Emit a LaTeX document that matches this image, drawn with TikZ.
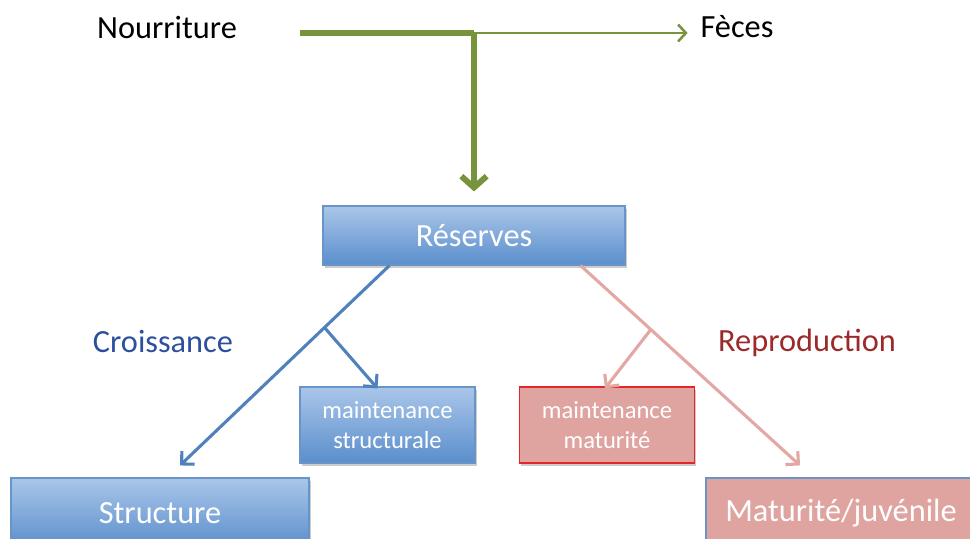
\documentclass[tikz,border=0pt]{standalone}
\usepackage{fontspec}
\setmainfont{Carlito}
\usetikzlibrary{
    positioning,
    arrows.meta,
    shadows,
    calc
    }

\definecolor{feedgreen}{HTML}{77933C}
\definecolor{growblue}{HTML}{4F81BD}
\definecolor{boxtop}{HTML}{AAC6E9}
\definecolor{boxbottom}{HTML}{5A8ECC}
\definecolor{repropink}{HTML}{E3A7A4}
\definecolor{pinkfill}{HTML}{DFA3A0}
\definecolor{redline}{HTML}{E3262A}
\definecolor{growtext}{HTML}{2C4F9E}
\definecolor{reprotext}{HTML}{9C2A2A}

\begin{document}
\begin{tikzpicture}[x=0.025cm, y=-0.025cm]
\tikzset{big/.style =
        {
            font=\fontsize{23}{27}\selectfont
        }
}

\tikzset{small/.style =
        {
            font=\fontsize{17.5}{21.5}\selectfont,
            align=center
        }
}

\tikzset{box/.style =
        {
            rectangle,
            inner sep=0pt,
            text=white,
            draw,
            line width=0.8pt,
            drop shadow={shadow xshift=1.2pt, shadow yshift=-1.8pt, opacity=0.4}
        }
}

\tikzset{bluebox/.style =
        {
            box,
            draw=growblue!85,
            top color=boxtop,
            bottom color=boxbottom
        }
}

\tikzset{pinkbox/.style =
        {
            box,
            fill=pinkfill
        }
}

\tikzset{feed/.style =
        {
            feedgreen,
            line width=4.2pt
        }
}

\tikzset{flow/.style =
        {
            line width=2.2pt,
            -{Straight Barb[length=6.5pt, width=13pt, line width=2.2pt]}
        }
}

		\useasboundingbox (0,0) rectangle (970,538);
		\clip (0,0) rectangle (970,538);

		\node[big] (nour) at (167,27) {Nourriture};
		\node[big] (feces) at (737,27) {Fèces};

		\node[bluebox, big, minimum width=7.55cm, minimum height=1.475cm] (res) at (474,235.5) {\raisebox{-2pt}{Réserves}};

		\node[bluebox, small, minimum width=4.375cm, minimum height=1.9cm] (ms) at (387.5,425) {maintenance\\structurale};
		\node[pinkbox, small, draw=redline, minimum width=4.375cm, minimum height=1.9cm] (mm) at (607,425) {maintenance\\maturité};

		\node[bluebox, big, minimum width=7.45cm, minimum height=1.75cm] (struct) at (160,513) {Structure};
		\node[pinkbox, big, draw=growblue!85, minimum width=6.75cm, minimum height=1.75cm] (mat) at (841,513) {Maturité/juvénile};

		\node[big, text=growtext] (grow) at (163,341) {Croissance};
		\node[big, text=reprotext] (repro) at (807,343) {Reproduction};

		% food split
		\coordinate (eat) at (300,33);
		\coordinate (split) at (474,33);
		\draw[feed] (eat) -- (split);
		\draw[feedgreen, line width=1.8pt, -{Straight Barb[length=5.5pt, width=12pt, line width=1.8pt]}] (split) -- ($(feces.west)+(-8,6)$);
		\draw[feed, -{Straight Barb[length=8pt, width=18pt, line width=4.2pt]}] (split) -- ($(res.north)+(0,-14)$);

		% allocation
		\coordinate (gl) at ($(res.south west)+(67,0)$);
		\coordinate (gr) at ($(res.south east)+(-45,0)$);
		\coordinate (gt) at ($(struct.north)+(20,-12)$);
		\coordinate (rt) at ($(mat.north)+(-41,-12)$);

		\draw[flow, growblue] (gl) -- (gt);
		\draw[flow, repropink] (gr) -- (rt);
		\draw[flow, growblue] ($(gl)!0.31!(gt)$) -- ($(ms.north)+(-10,2)$);
		\draw[flow, repropink] ($(gr)!0.32!(rt)$) -- ($(mm.north)+(-2,2)$);

	\end{tikzpicture}
\end{document}
